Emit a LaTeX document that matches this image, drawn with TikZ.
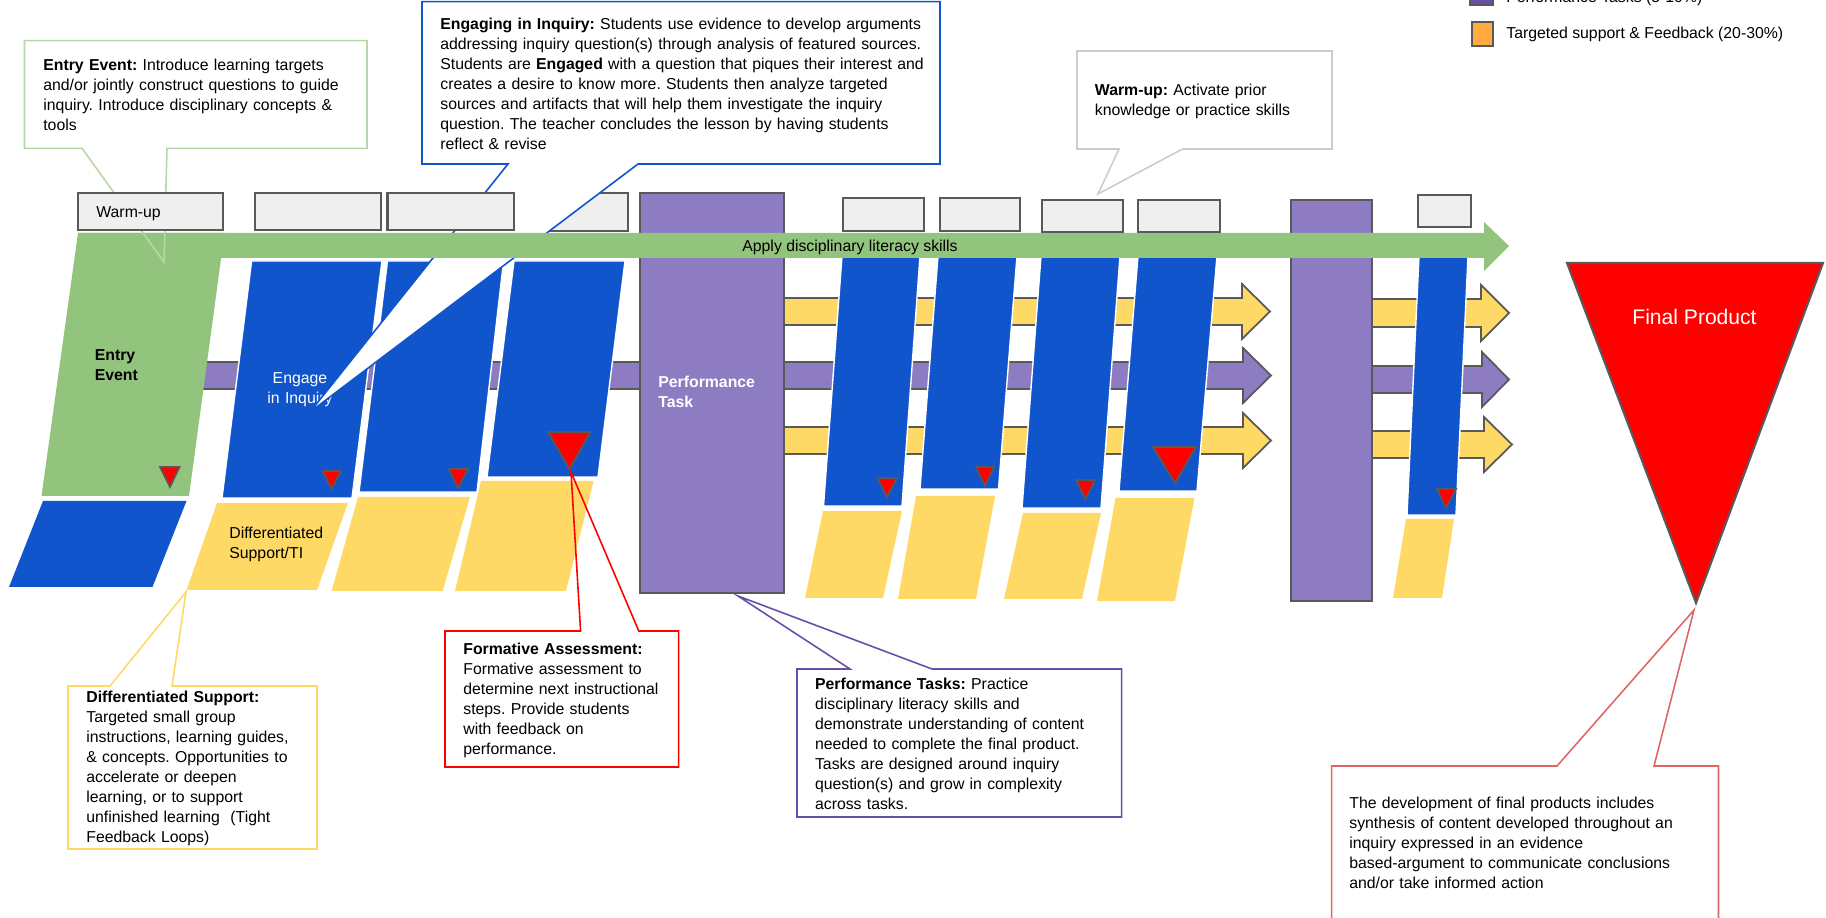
\documentclass[tikz,border=0pt]{standalone}
\usepackage{fontspec}
\setmainfont{Liberation Sans}
\frenchspacing
\definecolor{skillgreen}{HTML}{93C47D}
\definecolor{inqblue}{HTML}{1155CC}
\definecolor{suppyellow}{HTML}{FFD966}
\definecolor{taskpurple}{HTML}{8E7CC3}
\definecolor{legpurple}{HTML}{674EA7}
\definecolor{legorange}{HTML}{FFAB40}
\definecolor{warmgray}{HTML}{EFEFEF}
\definecolor{edgegray}{HTML}{595959}
\definecolor{entryline}{HTML}{B6D7A8}
\definecolor{warmline}{HTML}{CCCCCC}
\definecolor{finalline}{HTML}{E06666}
\tikzset{
  edge/.style={draw=edgegray, line width=1pt},
  callout/.style={line width=0.9pt},
  lbl/.style={font=\fontsize{9}{11.38}\selectfont, inner sep=0pt},
  txt/.style={lbl, anchor=base west, text width=#1, align=left}
}
\begin{document}
\begin{tikzpicture}[x=0.02cm, y=-0.02cm]
  \useasboundingbox (0,0) rectangle (1826,918);
  \clip (0,0) rectangle (1826,918);

  % legend
  \filldraw[edge, fill=legpurple] (1470,-19) rectangle (1493,5);
  \node[lbl, anchor=base west] (legperf) at (1506,3) {Performance Tasks (5-10\%)};
  \filldraw[edge, fill=legorange] (1472,22) rectangle (1493,46);
  \node[lbl, anchor=base west] (legsupp) at (1506,38.5) {Targeted support \& Feedback (20-30\%)};

  % flow arrows behind the lessons
  \filldraw[edge, fill=taskpurple] (200,362) rectangle (640,389);
  \foreach \xs/\xh/\xt/\ya/\yb/\col in {784/1242/1270/298/325/suppyellow, 784/1243/1271/362/389/taskpurple,
      784/1243/1271/427/454/suppyellow, 1372/1481/1509/299/327/suppyellow,
      1372/1482/1509/366/393/taskpurple, 1372/1484/1512/431/458/suppyellow}
    \filldraw[edge, fill=\col] (\xs,\ya) -- (\xh,\ya) -- (\xh,\ya-14) -- (\xt,{(\ya+\yb)/2})
      -- (\xh,\yb+14) -- (\xh,\yb) -- (\xs,\yb) -- cycle;

  % entry event
  \fill[skillgreen] (78,233) -- (224.5,233) -- (221,259) -- (189,496) -- (41.5,496) -- cycle;
  \fill[inqblue] (43,501) -- (186.5,501) -- (152.5,587) -- (9,587) -- cycle;
  \node[lbl, anchor=base west, text width=2cm] (entrylbl) at (94.5,360.5) {\bfseries Entry\\ Event};

  % lessons
  \foreach \yt/\xa/\xb/\yb/\xc/\xd in {261/251.6/382/498/222/352, 261/387.5/503.6/492/359/477,
      261/514/625/477/487/598, 256/842/920/506/823.5/902, 256/938/1017/489/920/998.5,
      256/1041/1120/508/1022/1101, 256/1138/1217/491/1119/1197, 256/1419/1468/515/1407/1456}
    \filldraw[fill=inqblue, draw=white, line width=0.8pt] (\xa,\yt) -- (\xb,\yt) -- (\xd,\yb) -- (\xc,\yb) -- cycle;
  \foreach \yt/\xa/\xb/\yb/\xc/\xd in {503/217/348/590/186.5/317, 497/358/470/591/331.6/442.7,
      481/481/593.6/591/455/566, 511/823/902/598/805/883, 496/916/995/599/898/976,
      513/1023/1101/599/1004/1082, 498/1115.5/1194.5/601/1097/1175, 519/1406/1454/598/1393/1442}
    \fill[suppyellow] (\xa,\yt) -- (\xb,\yt) -- (\xd,\yb) -- (\xc,\yb) -- cycle;
  \foreach \xa/\xb/\yt/\xt/\yb in {160/179.5/467/170/487, 322.5/341/471/331.6/489, 449/468/469/458/488,
      548/590.6/432/569.5/469, 877.6/897/478/887/497, 976/994/467/985/486,
      1076/1095/480/1085.6/499, 1153/1196/447/1175/483, 1437/1456/489/1446/508}
    \filldraw[edge, fill=red] (\xa,\yt) -- (\xb,\yt) -- (\xt,\yb) -- cycle;
  \node[lbl, text=white, anchor=base, text width=2cm, align=center] (engagelbl) at (300,383.5) {Engage\\ in Inquiry};
  \node[lbl, anchor=base west, text width=2.6cm] (difflbl) at (229,538.5) {Differentiated\\ Support/TI};

  % performance tasks
  \filldraw[edge, line width=1.2pt, fill=taskpurple] (640,193) rectangle (784,593);
  \filldraw[edge, line width=1.2pt, fill=taskpurple] (1291,200) rectangle (1372,601);
  \node[lbl, text=white, anchor=base west, text width=2.6cm] (perflbl) at (658,387.5) {\bfseries Performance\\ Task};

  \filldraw[edge, line width=1.2pt, fill=warmgray] (520,193) rectangle (628,231);
  \filldraw[callout, draw=inqblue, fill=white] (422,1.7) -- (940,1.7) -- (940,164) -- (638,164)
    -- (310,412) -- (508,164) -- (422,164) -- cycle;

  % disciplinary literacy
  \fill[skillgreen] (78,233) -- (1484,233) -- (1484,222) -- (1509,246) -- (1484,271) -- (1484,258) -- (78,258) -- cycle;
  \node[lbl, anchor=base] (skilllbl) at (850,251.5) {Apply disciplinary literacy skills};
  \draw[callout, draw=entryline] (24.5,40.7) -- (367,40.7) -- (367,148.3) -- (167,148.3)
    -- (164,262) -- (82,148.3) -- (24.5,148.3) -- cycle;

  % warm-ups
  \foreach \xa/\ya/\xb/\yb in {78/193/223/230, 255/193/381/230, 387.5/193/514/230, 843/198/924/231,
      940/198/1020/231, 1042/200/1123/232, 1138/200/1220/232, 1418/195/1471/227}
    \filldraw[edge, line width=1.2pt, fill=warmgray] (\xa,\ya) rectangle (\xb,\yb);
  \node[lbl, anchor=base west] (warmlbl) at (96,217.5) {Warm-up};

  % callouts
  \draw[callout, draw=warmline] (1077,51) -- (1332,51) -- (1332,149) -- (1182.5,149)
    -- (1098,194) -- (1119,149) -- (1077,149) -- cycle;
  \draw[callout, draw=suppyellow] (68,686) -- (110,686) -- (186,592) -- (172,686)
    -- (317,686) -- (317,849) -- (68,849) -- cycle;
  \draw[callout, draw=red] (445,631) -- (580.6,631) -- (571,472) -- (638.8,631)
    -- (678.6,631) -- (678.6,767) -- (445,767) -- cycle;
  \draw[callout, draw=legpurple] (797,669) -- (850,669) -- (738,596) -- (932,669)
    -- (1121.6,669) -- (1121.6,817) -- (797,817) -- cycle;
  \draw[callout, draw=finalline] (1331.6,766) -- (1557,766) -- (1694,610) -- (1654,766)
    -- (1718.5,766) -- (1718.5,930) -- (1331.6,930) -- cycle;

  % final product
  \filldraw[edge, line width=1.2pt, fill=red] (1567,263) -- (1823,263) -- (1696,603) -- cycle;
  \node[font=\fontsize{12}{14}\selectfont, text=white, anchor=base, inner sep=0pt] (finallbl) at (1694.5,324.5) {Final Product};

  \node[txt=7cm] (entrytxt) at (43,70.5) {\textbf{Entry Event:} Introduce learning targets\\
    and/or jointly construct questions to guide\\ inquiry. Introduce disciplinary concepts \&\\ tools};
  \node[txt=10.5cm] (engagetxt) at (440,29.5) {\textbf{Engaging in Inquiry:} Students use evidence to develop arguments\\
    addressing inquiry question(s) through analysis of featured sources.\\
    Students are \textbf{Engaged} with a question that piques their interest and\\
    creates a desire to know more. Students then analyze targeted\\
    sources and artifacts that will help them investigate the inquiry\\
    question. The teacher concludes the lesson by having students\\ reflect \& revise};
  \node[txt=5cm] (warmtxt) at (1094.6,95.5) {\textbf{Warm-up:} Activate prior\\ knowledge or practice skills};
  \node[txt=5cm] (difftxt) at (86,702.5) {\textbf{Differentiated Support:}\\ Targeted small group\\
    instructions, learning guides,\\ \& concepts. Opportunities to\\ accelerate or deepen\\
    learning, or to support\\ unfinished learning\ \ (Tight\\ Feedback Loops)};
  \node[txt=4.6cm] (formtxt) at (463,654.5) {\textbf{Formative Assessment:}\\ Formative assessment to\\
    determine next instructional\\ steps. Provide students\\ with feedback on\\ performance.};
  \node[txt=6.5cm] (perftxt) at (814.7,689.5) {\textbf{Performance Tasks:} Practice\\
    disciplinary literacy skills and\\ demonstrate understanding of content\\
    needed to complete the final product.\\ Tasks are designed around inquiry\\
    question(s) and grow in complexity\\ across tasks.};
  \node[txt=7.5cm] (finaltxt) at (1349,808.5) {The development of final products includes\\
    synthesis of content developed throughout an\\ inquiry expressed in an evidence\\
    based-argument to communicate conclusions\\ and/or take informed action};
\end{tikzpicture}
\end{document}
